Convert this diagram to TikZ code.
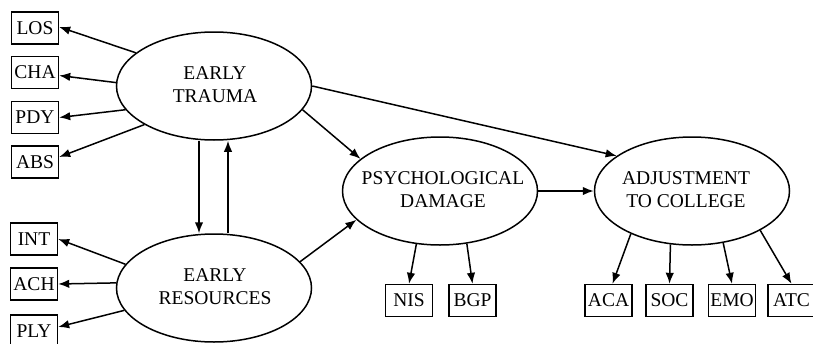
\documentclass[tikz,border=0pt]{standalone}
\usepackage{fontspec}
\setmainfont{Liberation Serif}
\usetikzlibrary{arrows.meta,shapes.geometric}
\begin{document}
\begin{tikzpicture}[x=1pt,y=-1pt,
  every node/.style={font=\fontsize{19.5}{23}\selectfont},
  ell/.style={ellipse,draw,line width=1.5pt,minimum width=195pt,minimum height=108pt,inner sep=0pt},
  lbl/.style={align=center,inner sep=0pt},
  obs/.style={rectangle,draw,line width=1.4pt,minimum width=47pt,minimum height=32pt,inner sep=1pt},
  arr/.style={line width=1.5pt,-{Latex[length=11pt,width=8.5pt]}}]
\clip (0,0) rectangle (813,343);
% latent variables
\node[ell] (ET) at (214,86) {};
\node[lbl] (ETt) at (215,85) {EARLY\\TRAUMA};
\node[ell] (ER) at (214,288) {};
\node[lbl] (ERt) at (215,287) {EARLY\\RESOURCES};
\node[ell] (PD) at (440,191) {};
\node[lbl] (PDt) at (443,190) {PSYCHOLOGICAL\\DAMAGE};
\node[ell] (ADJ) at (692,191) {};
\node[lbl] (ADJt) at (686,190) {ADJUSTMENT\\TO COLLEGE};
% indicators
\node[obs] (LOS) at (35,28) {LOS};
\node[obs] (CHA) at (35,72.5) {CHA};
\node[obs] (PDY) at (35,117.5) {PDY};
\node[obs] (ABS) at (35,162) {ABS};
\node[obs] (INT) at (34,239) {INT};
\node[obs] (ACH) at (34,284) {ACH};
\node[obs] (PLY) at (34,331) {PLY};
\node[obs] (NIS) at (409,300.5) {NIS};
\node[obs] (BGP) at (472.5,300.5) {BGP};
\node[obs] (ACA) at (608.5,300.5) {ACA};
\node[obs] (SOC) at (669.5,300.5) {SOC};
\node[obs] (EMO) at (732,300.5) {EMO};
\node[obs] (ATC) at (791.5,300.5) {ATC};
% connectors
\draw[arr] (ET.157) -- ([yshift=1pt]LOS.east);
\draw[arr] (ET.178) -- ([yshift=-3pt]CHA.east);
\draw[arr] (ET.195) -- (PDY.east);
\draw[arr] (ET.209) -- ([yshift=5pt]ABS.east);
\draw[arr] (ER.165) -- (INT.east);
\draw[arr] (ER.177) -- (ACH.east);
\draw[arr] (ER.194) -- ([yshift=4pt]PLY.east);
\draw[arr] ([xshift=-15pt]ET.south) -- ([xshift=-15pt]ER.north);
\draw[arr] ([xshift=14pt]ER.north) -- ([xshift=14pt]ET.south);
\draw[arr] (ET.345) -- (PD.158);
\draw[arr] (ER.17) -- (PD.199);
\draw[arr] (ET.east) -- (ADJ.155);
\draw[arr] (PD.east) -- (ADJ.west);
\draw[arr] (PD.246) -- (NIS.north);
\draw[arr] (PD.297) -- (BGP.north);
\draw[arr] (ADJ.215) -- ([xshift=4pt]ACA.north);
\draw[arr] (ADJ.248) -- (SOC.north);
\draw[arr] (ADJ.301) -- (EMO.north);
\draw[arr] (ADJ.330) -- (ATC.north);
\end{tikzpicture}
\end{document}
